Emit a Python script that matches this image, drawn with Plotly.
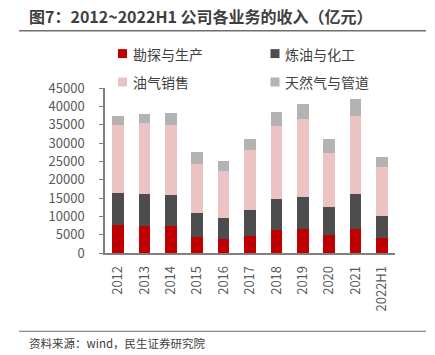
import plotly.graph_objects as go

years = ["2012", "2013", "2014", "2015", "2016", "2017", "2018", "2019", "2020", "2021", "2022H1"]
exploration = [7530, 7420, 7420, 4440, 3810, 4710, 6170, 6440, 4890, 6520, 4170]
refining = [8700, 8620, 8270, 6350, 5710, 6980, 8590, 8790, 7620, 9600, 5800]
marketing = [18760, 19310, 19190, 13600, 12860, 16310, 19770, 21390, 14680, 21210, 13410]
gas = [2340, 2520, 3180, 3070, 2630, 3180, 3810, 4080, 3990, 4540, 2800]

names = ["勘探与生产", "炼油与化工", "油气销售", "天然气与管道"]
colors = ["#C00000", "#4D4D4D", "#EBC3C3", "#B3B3B3"]
series = [exploration, refining, marketing, gas]

W, H = 435, 355
L, R, T, B = 105, 40, 87.5, 102
pw, ph = W - L - R, H - T - B

font = "Noto Sans CJK SC, Noto Sans, sans-serif"

fig = go.Figure()
for n, c, v in zip(names, colors, series):
    fig.add_trace(go.Bar(x=years, y=v, name=n, marker=dict(color=c, line=dict(width=0)),
                         showlegend=False))

def px2x(px):
    return (px - L) / pw

def py2y(py):
    return (H - B - py) / ph

shapes = []
annotations = []
# custom legend
leg_pos = [(118, 53), (270.5, 53), (118, 81.5), (270.5, 81.5)]
for (lx, ly), n, c in zip(leg_pos, names, colors):
    shapes.append(dict(type="rect", xref="paper", yref="paper",
                       x0=px2x(lx), x1=px2x(lx + 9), y0=py2y(ly + 4.5), y1=py2y(ly - 4.5),
                       fillcolor=c, line=dict(width=0)))
    annotations.append(dict(text=n, xref="paper", yref="paper", x=px2x(lx + 12.5), y=py2y(ly),
                            xanchor="left", yanchor="middle", showarrow=False,
                            font=dict(size=14, color="#404040", family=font)))

# title and rules
annotations.append(dict(text="<b>图7：2012~2022H1 公司各业务的收入（亿元）</b>", xref="paper", yref="paper",
                        x=px2x(27), y=py2y(15), xanchor="left", yanchor="middle", showarrow=False,
                        font=dict(size=16, color="#404040", family=font)))
shapes.append(dict(type="line", xref="paper", yref="paper", x0=px2x(19), x1=px2x(426),
                   y0=py2y(30), y1=py2y(30), line=dict(color="#6E6E6E", width=1.5)))
shapes.append(dict(type="line", xref="paper", yref="paper", x0=px2x(19), x1=px2x(426),
                   y0=py2y(331.5), y1=py2y(331.5), line=dict(color="#6E6E6E", width=1.2)))
annotations.append(dict(text="资料来源：wind，民生证券研究院", xref="paper", yref="paper",
                        x=px2x(27), y=py2y(343), xanchor="left", yanchor="middle", showarrow=False,
                        font=dict(size=11.5, color="#404040", family=font)))

fig.update_layout(
    barmode="stack",
    bargap=0.56,
    width=W, height=H,
    margin=dict(l=L, r=R, t=T, b=B, pad=0),
    paper_bgcolor="white", plot_bgcolor="white",
    font=dict(family=font, color="#595959"),
    shapes=shapes, annotations=annotations,
    xaxis=dict(tickangle=-90, showline=True, linecolor="#808080", linewidth=1.5,
               ticks="", tickfont=dict(size=13, color="#595959"), showgrid=False,
               ticklabelstandoff=6),
    yaxis=dict(range=[0, 45000], dtick=5000, showline=True, linecolor="#808080", linewidth=1.5,
               ticks="outside", ticklen=4, tickcolor="#808080", tickwidth=1.2,
               tickfont=dict(size=13, color="#595959"), showgrid=False, zeroline=False,
               ticklabelstandoff=12, tickformat="d"),
)

fig.write_html("out.html", config={"displayModeBar": False},
               post_script="document.body.style.margin='0';document.body.style.padding='0';")
